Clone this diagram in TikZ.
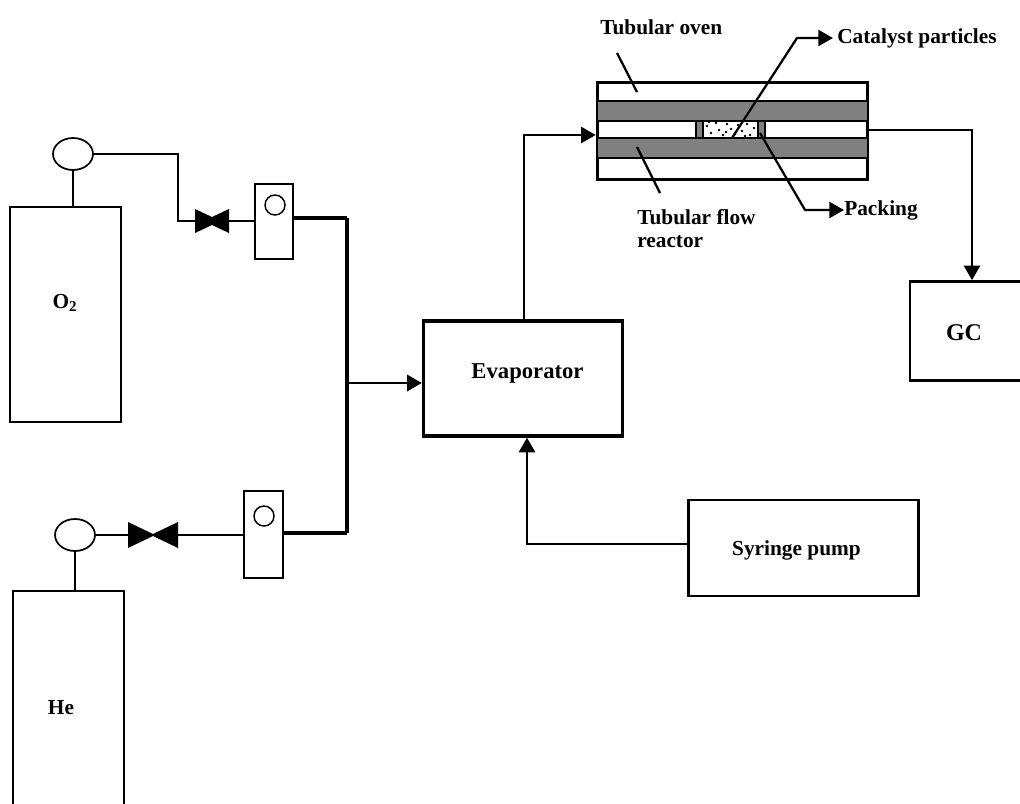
\documentclass[tikz,border=0pt]{standalone}
\usepackage{fontspec}
\setmainfont{Liberation Serif}
\usetikzlibrary{arrows.meta, shapes.geometric, calc}
\definecolor{wallgray}{RGB}{128,128,128}
\tikzset{
  pipe/.style={line width=1.5pt},
  flow/.style={line width=2.1pt,-{Triangle[length=11pt,width=12pt]}},
  leader/.style={line width=1.7pt},
  unitbox/.style={draw,line width=2.2pt,rectangle,inner sep=0pt,font=\fontsize{16}{19}\selectfont\bfseries},
  tank/.style={draw,line width=1.5pt,rectangle,inner sep=0pt,font=\fontsize{16}{19}\selectfont\bfseries},
  gauge/.style={draw,line width=1.3pt,ellipse,inner sep=0pt,minimum width=30pt,minimum height=24pt},
  meter/.style={draw,line width=1.5pt,rectangle,inner sep=0pt,minimum width=29pt},
  bead/.style={draw,line width=1.1pt,circle,inner sep=0pt,minimum size=15pt},
  lbl/.style={inner sep=0pt,font=\fontsize{16}{19}\selectfont\bfseries},
  wall/.style={draw,fill=wallgray,line width=1.5pt,rectangle,inner sep=0pt},
}
\newcommand{\valvebody}[4]{% centre, half width, half height, half waist
  \fill ($(#1)+(-#2,-#3)$) -- ($(#1)+(0,-#4)$) -- ($(#1)+(#2,-#3)$)
    -- ($(#1)+(#2,#3)$) -- ($(#1)+(0,#4)$) -- ($(#1)+(-#2,#3)$) -- cycle;
}
\begin{document}
\begin{tikzpicture}[x=0.75pt, y=-0.75pt]
  \useasboundingbox (0,0) rectangle (1020,803);
  % Gas cylinders
  \node[tank,minimum width=83pt,minimum height=161pt] (o2tank) at (65.5,314.5) {};
  \node[lbl] (o2text) at (65,303) {O\textsubscript{2}};
  \draw[line width=1.5pt] (13,810) -- (13,591) -- (124,591) -- (124,810);
  \coordinate (hetop) at (75,591);
  \node[lbl] (hetext) at (61,708) {He};
  % Regulators
  \node[gauge] (o2reg) at (73,154) {};
  \node[gauge] (hereg) at (75,535) {};
  \draw[pipe] (o2reg.south) -- (o2reg.south |- o2tank.north);
  \draw[pipe] (hereg) -- (hetop);
  % Valves
  \coordinate (o2valve) at (212,221);
  \coordinate (hevalve) at (153,535);
  \valvebody{o2valve}{17}{12}{4}
  \valvebody{hevalve}{25}{13}{1}
  % Flow meters
  \node[meter,minimum height=56pt] (o2meter) at (274,221.5) {};
  \node[meter,minimum height=65pt] (hemeter) at (263.5,534.5) {};
  \node[bead] (o2bead) at (275,205) {};
  \node[bead] (hebead) at (264,516) {};
  % Gas lines
  \coordinate (o2bend) at (178,221);
  \draw[pipe] (o2reg.east) -| (o2bend) -- (o2valve);
  \draw[pipe] (o2valve) -- (o2meter.west |- o2valve);
  \draw[pipe] (hereg.east) -- (hevalve) -- (hemeter.west |- hevalve);
  % Manifold
  \coordinate (mantop) at (347,218);
  \coordinate (manbot) at (347,533);
  \coordinate (manmid) at (347,383);
  \draw[line width=2.3pt] (mantop) -- (manbot);
  \draw[line width=2.3pt] (o2meter.east |- mantop) -- (mantop);
  \draw[line width=2.3pt] (hemeter.east |- manbot) -- (manbot);
  % Main units
  \node[unitbox,line width=2.7pt,minimum width=149pt,minimum height=86pt] (evap) at (523,378.5) {};
  \node[lbl,font=\fontsize{17}{19}\selectfont\bfseries] (evaptext) at (527.5,373) {Evaporator};
  \node[unitbox,minimum width=173pt,minimum height=72pt] (pump) at (803.5,548) {};
  \node[lbl] (pumptext) at (796.5,550) {Syringe pump};
  \node[unitbox,minimum width=90pt,minimum height=74pt] (gc) at (970,331) {};
  \node[lbl,font=\fontsize{18}{19}\selectfont\bfseries] (gctext) at (964,333) {GC};
  % Oven and reactor
  \node[unitbox,fill=white,minimum width=203pt,minimum height=73pt] (oven) at (732.5,131) {};
  \node[wall,minimum width=203pt,minimum height=15pt] (wallup) at (732.5,111) {};
  \node[wall,minimum width=203pt,minimum height=15pt] (walldn) at (732.5,148) {};
  \node[wall,minimum width=5pt,minimum height=13pt] (plugl) at (699.5,129.5) {};
  \node[wall,minimum width=5pt,minimum height=13pt] (plugr) at (761.5,129.5) {};
  \node[inner sep=0pt,minimum width=41pt,minimum height=13pt] (bed) at (730.5,129.5) {};
  % Catalyst dots
  \foreach \px/\py in {707/126,711/133,716/123,719/130,723/135,727/124,
      731/129,735/134,738/125,742/131,747/124,750/135,754/128,709/122,
      726/132,745/136}
    \fill (\px,\py) circle (1.1pt);
  % Flow arrows
  \coordinate (evapjoin) at (524,135);
  \coordinate (pumpjoin) at (527,544);
  \coordinate (gcjoin) at (972,130);
  \draw[flow] (manmid) -- (evap.west |- manmid);
  \draw[flow] (evap.north -| evapjoin) |- (oven.west |- evapjoin);
  \draw[flow] (pump.west |- pumpjoin) -| (evap.south -| pumpjoin);
  \draw[flow] (oven.east |- gcjoin) -| (gc.north -| gcjoin);
  % Labels with leaders
  \node[lbl,anchor=west] (ovenlabel) at (600,27) {Tubular oven};
  \coordinate (ovena) at (617,53);
  \coordinate (ovenb) at (637,92);
  \draw[leader] (ovena) -- (ovenb);
  \node[lbl,anchor=west] (reactlabel) at (637,217) {Tubular flow};
  \node[lbl,anchor=west] (reactlabeltwo) at (637,242) {reactor};
  \coordinate (reacta) at (637,147);
  \coordinate (reactb) at (660,193);
  \draw[leader] (reacta) -- (reactb);
  \node[lbl,anchor=west] (catlabel) at (837,38) {Catalyst particles};
  \coordinate (cata) at (732,138);
  \coordinate (catb) at (797,38);
  \draw[leader,shorten >=3pt,-{Triangle[length=11pt,width=12pt]}] (cata) -- (catb) -- (catlabel.west);
  \node[lbl,anchor=west] (packlabel) at (844,210) {Packing};
  \coordinate (packa) at (760,133);
  \coordinate (packb) at (805,210);
  \draw[leader,-{Triangle[length=11pt,width=12pt]}] (packa) -- (packb) -- (packlabel.west);
\end{tikzpicture}
\end{document}
